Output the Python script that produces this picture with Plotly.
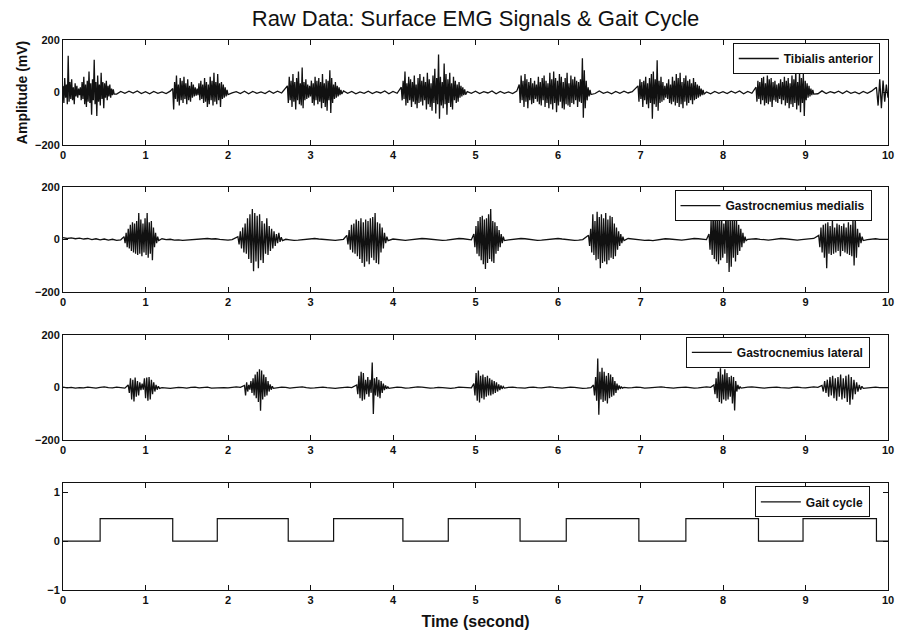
import numpy as np
import plotly.graph_objects as go

# ---------------- data ----------------
time_ticks = [0, 1, 2, 3, 4, 5, 6, 7, 8, 9, 10]
emg_ticks = [-200, 0, 200]
gait_ticks = [-1, 0, 1]

# Tibialis anterior: burst windows (s) and sample values inside each burst (mV)
ta_start = [0.00, 1.33, 2.72, 4.10, 5.53, 6.97, 8.40, 9.86]
ta_end = [0.62, 2.00, 3.38, 4.88, 6.40, 7.77, 9.10, 10.00]
ta_bursts = [
    [25, -40, 55, -20, 30, -45, 140, -35, 40, -25, 50, -30, 20, -45, 35, -15, 25, -20, 15, -10,
     20, -30, 40, -25, 60, -45, 30, -55, 45, -35, 80, -40, 35, -85, 50, -30, 125, -45, 40, -90,
     65, -35, 30, -50, 75, -25, 40, -60, 35, -20, 45, -30, 25, -15, 30, -20, 15, -10, 12, -6],
    [15, -65, 40, -25, 65, -35, 30, -50, 55, -30, 45, -40, 60, -25, 35, -45, 50, -30, 25, -35,
     40, -20, 30, -15, 20, -12, 15, -10, 35, -30, 45, -25, 30, -40, 55, -35, 40, -55, 30, -45,
     60, -30, 45, -50, 75, -35, 40, -45, 70, -30, 35, -55, 40, -25, 30, -20, 20, -15, 10, -8],
    [25, -40, 60, -30, 45, -55, 70, -35, 40, -65, 55, -30, 80, -45, 35, -50, 95, -60, 40, -30,
     50, -25, 30, -20, 25, -15, 45, -40, 35, -50, 60, -30, 45, -45, 55, -35, 40, -60, 70, -40,
     35, -55, 50, -70, 45, -30, 85, -78, 55, -40, 30, -25, 40, -20, 25, -15, 20, -10, 10, -6],
    [20, -30, 45, -25, 80, -50, 35, -40, 60, -30, 50, -55, 40, -35, 65, -45, 30, -60, 55, -40,
     70, -35, 45, -50, 60, -30, 40, -65, 75, -45, 50, -55, 35, -70, 65, -40, 90, -80, 55, -45,
     145, -100, 60, -50, 40, -60, 110, -45, 70, -85, 50, -40, 75, -55, 35, -65, 60, -30, 45, -40,
     30, -35, 40, -20, 25, -15, 20, -10, 12, -8],
    [30, -40, 65, -30, 45, -55, 70, -35, 50, -60, 40, -30, 55, -45, 35, -40, 45, -25, 30, -35,
     60, -45, 40, -50, 55, -30, 65, -55, 45, -40, 35, -60, 75, -45, 50, -65, 80, -40, 55, -75,
     45, -50, 70, -35, 60, -60, 40, -65, 55, -45, 75, -50, 35, -55, 65, -40, 50, -45, 60, -30,
     45, -55, 40, -35, 50, -40, 130, -96, 85, -60, 45, -30, 20, -15, 10, -8],
    [25, -35, 50, -25, 40, -55, 45, -30, 60, -45, 35, -60, 55, -40, 70, -100, 80, -45, 50, -55,
     123, -70, 45, -40, 60, -35, 40, -30, 25, -20, 35, -25, 50, -40, 30, -45, 60, -35, 45, -50,
     70, -40, 55, -55, 75, -45, 40, -60, 55, -35, 65, -50, 45, -40, 50, -30, 35, -45, 55, -30,
     40, -25, 30, -20, 25, -15, 15, -10, 10, -6],
    [20, -35, 45, -25, 40, -45, 55, -30, 60, -50, 35, -40, 65, -45, 50, -35, 55, -55, 40, -30,
     45, -35, 30, -40, 35, -25, 50, -45, 40, -30, 60, -50, 45, -40, 55, -60, 35, -45, 65, -55,
     50, -40, 85, -65, 40, -50, 80, -75, 55, -40, 70, -90, 45, -30, 35, -20, 25, -15, 15, -10,
     10, -6],
    [20, -50, 50, -60, 45, -35, 30, -20],
]
ta_base = [
    4, -3, 5, -4, 3, -5, 6, -3, 4, -2, 5, -4, 3, -6, 4, -3, 5, -2, 6, -4,
    3, -5, 4, -3, 2, -4, 5, -3, 6, -5, 3, -2, 4, -4, 5, -3, 2, -5, 4, -3,
    6, -2, 3, -4, 5, -5, 4, -3, 2, -4, 6, -3, 5, -2, 3, -5, 4, -4, 6, -3,
    2, -5, 4, -3, 5, -2, 3, -4, 6, -3, 4, -5, 2, -3, 5, -4, 3, -2, 6, -5,
    4, -3, 5, -4, 2, -3, 6, -5, 3, -4, 5, -2, 4, -3, 6, -4, 2, -5, 3, -3,
    5, -4, 3, -2, 6, -5, 4, -3, 2, -4, 5, -3, 6, -2, 3, -5, 4, -4, 5, -3,
    2, -4, 6, -3, 4, -5, 3, -2, 5, -4, 6, -3, 2, -5, 4, -3, 5, -2, 3, -4,
    6, -5, 4, -3, 2, -4, 5, -3, 3, -5, 6, -2, 4, -4, 5, -3, 2, -5, 4, -3,
    3, -4, 5, -2, 6, -5, 4, -3, 2, -4, 5, -3, 6, -2, 3, -5, 4, -4, 5, -3,
    4, -3, 2, -5, 6, -4, 3, -2, 5, -4, 6, -3, 2, -5, 4, -3, 5, -2, 3, -4,
    2,
]

# Gastrocnemius medialis
gm_start = [0.74, 2.12, 3.44, 4.98, 6.37, 7.83, 9.16]
gm_end = [1.16, 2.66, 3.94, 5.35, 6.80, 8.28, 9.70]
gm_bursts = [
    [10, -15, 25, -30, 40, -35, 55, -45, 65, -50, 60, -55, 70, -60, 100, -55, 75, -65, 60, -50,
     80, -60, 100, -70, 65, -55, 70, -80, 45, -30, 25, -15, 10, -5],
    [10, -20, 30, -35, 45, -50, 60, -55, 80, -75, 95, -90, 115, -122, 100, -85, 90, -110, 95, -80,
     70, -90, 60, -55, 80, -60, 50, -45, 40, -35, 30, -25, 20, -15, 25, -10, 8, -5],
    [15, -20, 35, -40, 55, -50, 60, -55, 75, -65, 70, -75, 80, -90, 65, -105, 75, -85, 70, -95,
     80, -70, 85, -80, 100, -90, 65, -95, 60, -50, 45, -35, 25, -15, 10, -5],
    [20, -30, 50, -55, 70, -65, 85, -80, 90, -95, 75, -113, 80, -90, 95, -75, 115, -85, 70, -90,
     65, -55, 50, -45, 35, -30, 20, -15, 10, -5],
    [15, -25, 40, -50, 95, -60, 70, -80, 105, -75, 85, -110, 95, -90, 80, -85, 100, -95, 75, -80,
     90, -70, 85, -75, 60, -65, 45, -40, 30, -25, 20, -15, 10, -5],
    [20, -40, 70, -60, 110, -75, 95, -85, 105, -95, 90, -80, 75, -70, 60, -55, 110, -90, 100, -125,
     85, -105, 80, -70, 95, -85, 70, -60, 55, -45, 40, -30, 25, -15, 10, -5],
    [15, -30, 45, -50, 55, -70, 60, -110, 65, -55, 50, -60, 70, -55, 45, -50, 60, -45, 55, -65,
     50, -45, 60, -50, 45, -55, 65, -60, 55, -65, 75, -100, 85, -70, 40, -30, 25, -15, 10, -5],
]
gm_base = [
    6, 3, 5, 2, 4, 1, 3, -1, 2, -2, 1, -3, 0, -4, -2, -3, 0, -2, 1, -1,
    2, 0, 3, 1, 2, -1, 0, -3, -2, -4, -3, -2, -1, 0, 2, 3, 1, 2, 0, -2,
    -3, -1, 0, 1, 3, 2, 1, -1, -2, -3, -1, 0, 2, 1, 0, -2, -4, -3, -1, 1,
    2, 3, 1, 0, -2, -3, -4, -2, 0, 1, 2, 4, 3, 1, -1, -2, -3, -1, 0, 2,
    1, -1, -3, -4, -2, 0, 2, 3, 2, 0, -1, -2, -4, -3, -1, 1, 3, 2, 0, -2,
    -3, -2, 0, 2, 3, 1, -1, -3, -2, 0, 1, 3, 2, 0, -2, -4, -3, -1, 1, 2,
    3, 1, -1, -2, -4, -3, -1, 1, 2, 3, 1, 0, -2, -3, -2, 0, 1, 3, 2, 0,
    -2, -4, -3, -5, -2, 0, 2, 1, -1, -2, -3, -1, 1, 3, 2, 0, -1, -3, -2, 0,
    2, 3, 1, -1, -3, -2, 0, 1, 2, 0, -2, -3, -1, 1, 3, 2, 0, -2, -3, -1,
    0, 2, 3, 1, -1, -2, -4, -2, 0, 1, 3, 2, 0, -2, -3, -1, 1, 2, 0, -1,
    0,
]

# Gastrocnemius lateral
gl_start = [0.79, 2.20, 3.56, 4.98, 6.43, 7.89, 9.20]
gl_end = [1.17, 2.55, 3.95, 5.35, 6.78, 8.22, 9.70]
gl_bursts = [
    [10, -20, 35, -45, 30, -53, 38, -35, 25, -30, 20, -10, 15, -8, 35, -40, 38, -50, 40, -45,
     30, -25, 20, -15, 10, -8, 5, -3],
    [8, -30, 20, -15, 10, -8, 25, -20, 35, -30, 50, -40, 60, -55, 70, -88, 65, -45, 50, -35,
     40, -30, 25, -15, 12, -8, 5, -3],
    [10, -25, 45, -40, 60, -50, 55, -45, 30, -25, 40, -35, 30, -20, 95, -100, 35, -30, 40, -35,
     30, -40, 25, -20, 15, -10, 8, -5, 4, -3],
    [15, -30, 55, -50, 65, -57, 45, -40, 50, -45, 40, -35, 45, -30, 35, -30, 30, -25, 25, -20,
     20, -15, 12, -10, 8, -5, 4, -2],
    [10, -30, 40, -50, 110, -103, 60, -45, 75, -55, 60, -50, 45, -60, 55, -40, 50, -35, 40, -30,
     25, -20, 15, -10, 8, -5, 4, -2],
    [10, -25, 35, -40, 60, -55, 73, -60, 50, -45, 70, -50, 55, -45, 40, -35, 45, -60, 40, -87,
     25, -15, 10, -6, 4, -2],
    [8, -15, 25, -20, 30, -35, 40, -30, 45, -40, 35, -50, 40, -35, 50, -45, 35, -40, 45, -55,
     50, -65, 40, -45, 30, -25, 20, -15, 10, -8, 5, -3],
]
gl_base = [
    2, -1, 1, -2, 0, -1, 2, 0, -2, 1, 3, 0, -1, 2, 1, -2, 0, 1, -1, 2,
    0, -2, 1, 3, 0, -1, -3, -1, 1, 0, -2, 1, 2, -1, 0, 2, -2, -1, 1, 0,
    -1, 2, 3, 1, -1, -2, 0, 2, 1, -1, -3, -1, 0, 2, 1, -2, 0, 1, 3, 0,
    -2, -1, 1, 2, 0, -2, -3, -1, 1, 2, 0, -1, 2, 3, 1, -1, -2, 0, 1, -1,
    0, 2, 1, -2, -1, 1, 3, 2, 0, -2, -1, 1, 0, -2, -3, -1, 2, 1, 0, -1,
    1, 3, 2, 0, -1, -3, -2, 0, 1, 2, 0, -1, -2, 1, 2, 0, -1, 1, 3, 1,
    -1, -2, 0, 2, 1, -1, -3, -2, 0, 1, 2, 3, 1, -1, -2, 0, 1, -1, 0, 2,
    1, -2, -1, 0, 2, 3, 1, -1, -2, 0, 1, 2, 0, -2, -1, 1, 3, 1, -1, 0,
    2, 1, -1, -3, -1, 0, 2, 3, 1, -1, -2, 0, 1, 2, 0, -1, -2, 1, 2, 0,
    -1, 1, 3, 1, -1, -2, 0, 2, 1, -1, -3, -1, 1, 2, 0, -1, 1, 2, 0, -1,
    0,
]

# Gait cycle: switching instants (s) and level held after each instant
gait_t = [0.0, 0.45, 1.33, 1.87, 2.73, 3.28, 4.12, 4.67, 5.54, 6.10, 6.98, 7.55, 8.43, 8.97, 9.86, 10.0]
gait_v = [0, 0.46, 0, 0.46, 0, 0.46, 0, 0.46, 0, 0.46, 0, 0.46, 0, 0.46, 0, 0]

names = ["Tibialis anterior", "Gastrocnemius medialis", "Gastrocnemius lateral", "Gait cycle"]


def build(base, starts, ends, bursts):
    bt = np.linspace(0, 10, len(base))
    ts, vs = [], []
    for t, v in zip(bt, base):
        if not any(s - 0.02 <= t <= e + 0.02 for s, e in zip(starts, ends)):
            ts.append(t)
            vs.append(v)
    for s, e, vals in zip(starts, ends, bursts):
        ts.extend(np.linspace(s, e, len(vals)))
        vs.extend(vals)
    order = np.argsort(ts, kind="stable")
    return np.array(ts)[order], np.array(vs)[order]


ta_t, ta_v = build(ta_base, ta_start, ta_end, ta_bursts)
gm_t, gm_v = build(gm_base, gm_start, gm_end, gm_bursts)
gl_t, gl_v = build(gl_base, gl_start, gl_end, gl_bursts)

# ---------------- figure ----------------
W, H = 906, 639
ml, mr, mt, mb = 63, 13, 40, 47
ph = H - mt - mb


def dom(top_px, bot_px):
    return [(H - mb - bot_px) / ph, (H - mb - top_px) / ph]


domains = [dom(40, 145.3), dom(187.3, 292.7), dom(336, 441.7), dom(484.3, 591.7)]

FONT = "Arial, 'Liberation Sans', Helvetica, sans-serif"
INK = "#111111"
tickfont = dict(family=FONT, size=11, color=INK, weight="bold")

fig = go.Figure()
series = [(ta_t, ta_v), (gm_t, gm_v), (gl_t, gl_v)]
for i, (t, v) in enumerate(series):
    fig.add_trace(go.Scatter(
        x=t, y=v, mode="lines", name=names[i],
        line=dict(color=INK, width=1.3),
        xaxis="x" if i == 0 else f"x{i+1}", yaxis="y" if i == 0 else f"y{i+1}",
        legend="legend" if i == 0 else f"legend{i+1}",
    ))
fig.add_trace(go.Scatter(
    x=gait_t, y=gait_v, mode="lines", name=names[3], line_shape="hv",
    line=dict(color=INK, width=1.2), xaxis="x4", yaxis="y4", legend="legend4",
))

layout = dict(
    width=W, height=H,
    margin=dict(l=ml, r=mr, t=mt, b=mb),
    paper_bgcolor="white", plot_bgcolor="white",
    title=dict(text="Raw Data: Surface EMG Signals & Gait Cycle", x=0.5, xref="paper",
               y=1 - 18 / H, yref="container", xanchor="center", yanchor="middle",
               font=dict(family=FONT, size=22, color=INK)),
    showlegend=True,
)

axis_common = dict(showline=True, linecolor=INK, linewidth=1, mirror="allticks",
                   ticks="inside", ticklen=5, tickcolor=INK, showgrid=False,
                   zeroline=False, tickfont=tickfont)

for i in range(4):
    xs = "" if i == 0 else str(i + 1)
    layout[f"xaxis{xs}"] = dict(axis_common, domain=[0, 1], range=[0, 10],
                                tickvals=time_ticks, anchor=f"y{xs}")
    if i < 3:
        layout[f"yaxis{xs}"] = dict(axis_common, domain=domains[i], range=[-200, 200],
                                    tickvals=emg_ticks, anchor=f"x{xs}")
    else:
        layout[f"yaxis{xs}"] = dict(axis_common, domain=domains[i], range=[-1, 1.2],
                                    tickvals=gait_ticks, anchor=f"x{xs}")

layout["yaxis"]["title"] = dict(text="Amplitude (mV)", standoff=4,
                                font=dict(family=FONT, size=14, color=INK, weight="bold"))
layout["xaxis4"]["title"] = dict(text="Time (second)", standoff=10,
                                 font=dict(family=FONT, size=16, color=INK, weight="bold"))

legend_pos = [(0.99, dom(43, 43)[0]), (0.98, dom(190.7, 190.7)[0]),
              (0.978, dom(338, 338)[0]), (0.978, dom(488, 488)[0])]
for i, (lx, ly) in enumerate(legend_pos):
    key = "legend" if i == 0 else f"legend{i+1}"
    layout[key] = dict(x=lx, y=ly, xanchor="right", yanchor="top",
                       bgcolor="white", bordercolor=INK, borderwidth=1,
                       font=dict(family=FONT, size=12, color=INK, weight="bold"),
                       itemwidth=40)

fig.update_layout(**layout)
fig.write_html("out.html")
